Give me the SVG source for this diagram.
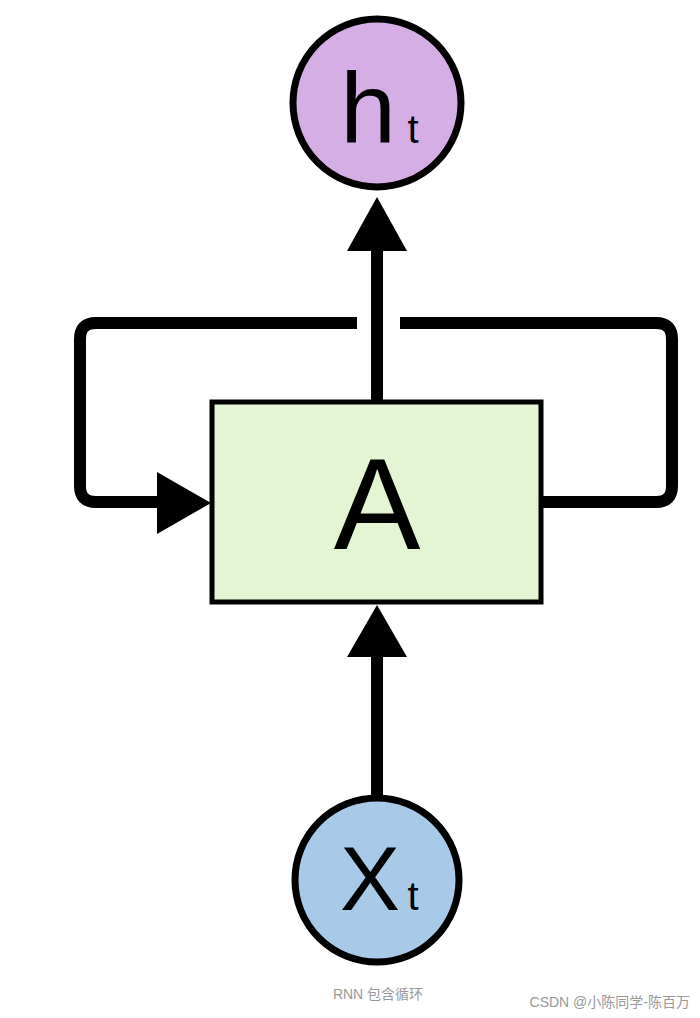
<svg xmlns="http://www.w3.org/2000/svg" width="700" height="1018" viewBox="0 0 700 1018">
<style>
.ln{fill:none;stroke:#000;stroke-width:12;stroke-linejoin:round}
.lbl{font-family:"Liberation Sans",Arial,sans-serif;fill:#000}
.cap{font-family:"Liberation Sans","Noto Sans CJK SC",sans-serif;fill:#999;font-size:14px}
</style>
<rect width="700" height="1018" fill="#fff"/>
<g id="connectors">
<line class="ln" x1="377" y1="402" x2="377" y2="245"/>
<polygon points="347,251 407,251 377,197"/>
<line class="ln" x1="377" y1="798" x2="377" y2="650"/>
<polygon points="347,657 407,657 377,605"/>
<path class="ln" d="M541,502 H656 Q672,502 672,486 V339 Q672,323 656,323 H400"/>
<path class="ln" d="M357,323 H96 Q80,323 80,339 V486 Q80,502 96,502 H165"/>
<polygon points="157,472 157,534 211,503"/>
</g>
<g id="h">
<circle cx="377" cy="103" r="84" fill="#d5aee6" stroke="#000" stroke-width="7"/>
<text class="lbl" x="368" y="143" font-size="100" text-anchor="middle">h</text>
<text class="lbl" x="413" y="143" font-size="40" text-anchor="middle">t</text>
</g>
<g id="A">
<rect x="212" y="402" width="329" height="200" fill="#e3f5d3" stroke="#000" stroke-width="5"/>
<text class="lbl" x="377" y="549" font-size="130" text-anchor="middle">A</text>
</g>
<g id="x">
<circle cx="377" cy="880" r="82" fill="#a9c9e8" stroke="#000" stroke-width="7"/>
<text class="lbl" x="370" y="910" font-size="90" text-anchor="middle">X</text>
<text class="lbl" x="413" y="910" font-size="40" text-anchor="middle">t</text>
</g>
<text class="cap" x="378" y="999" text-anchor="middle">RNN 包含循环</text>
<text class="cap" x="690" y="1007" text-anchor="end" font-size="15">CSDN @小陈同学-陈百万</text>
</svg>
